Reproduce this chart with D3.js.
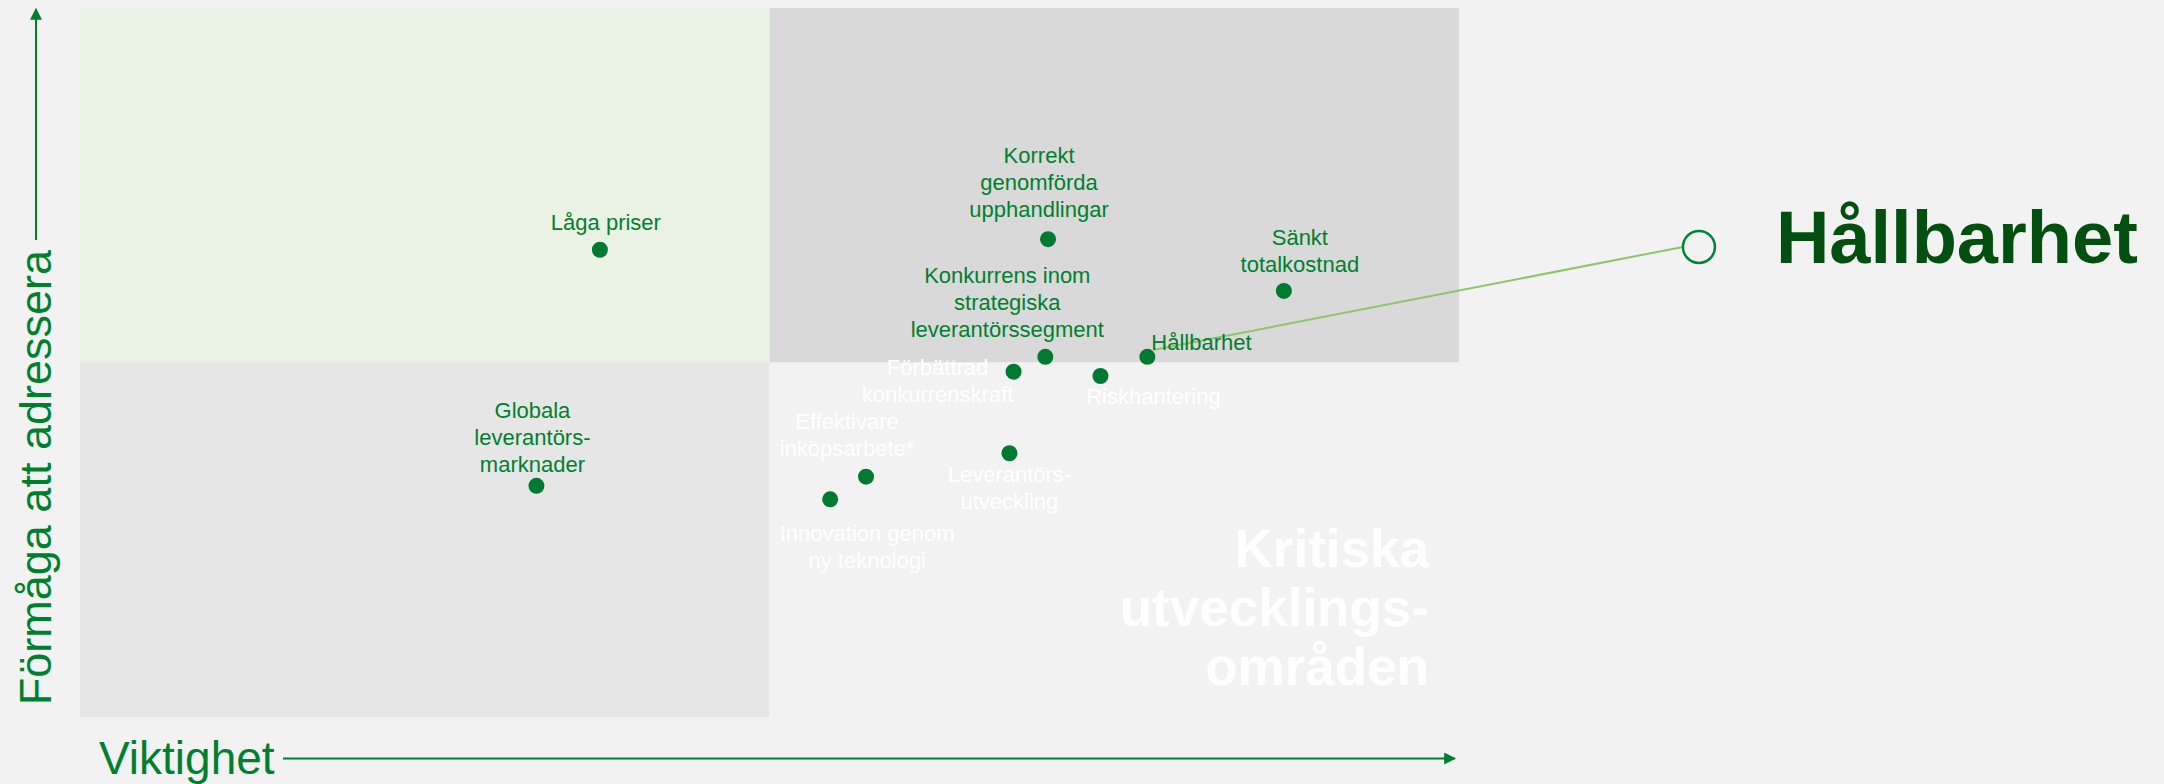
<!DOCTYPE html>
<html>
<head>
<meta charset="utf-8">
<script src="https://cdn.jsdelivr.net/npm/d3@7"></script>
<style>
  html, body { margin: 0; padding: 0; background: #f2f2f2; }
  svg { display: block; font-family: "Liberation Sans", Arial, sans-serif; }
</style>
</head>
<body>
<svg id="chart"></svg>
<script>
// --- data (0-10 scale on both axes) ---
const names = [
  "Låga priser",
  "Globala leverantörs-marknader",
  "Korrekt genomförda upphandlingar",
  "Sänkt totalkostnad",
  "Konkurrens inom strategiska leverantörssegment",
  "Hållbarhet",
  "Förbättrad konkurrenskraft",
  "Riskhantering",
  "Effektivare inköpsarbete*",
  "Leverantörs-utveckling",
  "Innovation genom ny teknologi"
];
const importance = [3.77, 3.31, 7.02, 8.73, 7.00, 7.74, 6.77, 7.40, 5.70, 6.74, 5.44];
const ability    = [6.59, 3.26, 6.74, 6.01, 5.08, 5.08, 4.87, 4.81, 3.39, 3.72, 3.07];
const labelLines = [
  ["Låga priser"],
  ["Globala", "leverantörs-", "marknader"],
  ["Korrekt", "genomförda", "upphandlingar"],
  ["Sänkt", "totalkostnad"],
  ["Konkurrens inom", "strategiska", "leverantörssegment"],
  ["Hållbarhet"],
  ["Förbättrad", "konkurrenskraft"],
  ["Riskhantering"],
  ["Effektivare", "inköpsarbete*"],
  ["Leverantörs-", "utveckling"],
  ["Innovation genom", "ny teknologi"]
];
const quadrantSplit = 5;
const highlightName = "Hållbarhet";
const highlightPos = [11.74, 6.63];
const areaTitle = ["Kritiska", "utvecklings-", "områden"];
const xTitle = "Viktighet";
const yTitle = "Förmåga att adressera";

// --- label layout: [dx, dy of first line, anchor, white?] ---
const labelLayout = [
  [6, -27.5, "middle", false],
  [-4, -76, "middle", false],
  [-9, -84, "middle", false],
  [16, -54, "middle", false],
  [-38, -82, "middle", false],
  [4, -14.5, "start", false],
  [-76, -4.5, "middle", true],
  [53, 20, "middle", true],
  [-19, -56, "middle", true],
  [0, 20.5, "middle", true],
  [37, 34, "middle", true]
];

const width = 2164, height = 784;
const green = "#00802f";
const dotGreen = "#007a30";
const lineH = 27;

const svg = d3.select("#chart").attr("width", width).attr("height", height);
svg.append("rect").attr("width", width).attr("height", height).attr("fill", "#f2f2f2");

const x = d3.scaleLinear().domain([0, 10]).range([80, 1459]);
const y = d3.scaleLinear().domain([0, 10]).range([717, 8]);

// quadrants
const quads = [
  { x0: 0, x1: quadrantSplit, y0: quadrantSplit, y1: 10, fill: "#eaf3e3" },
  { x0: quadrantSplit, x1: 10, y0: quadrantSplit, y1: 10, fill: "#d9d9d9" },
  { x0: 0, x1: quadrantSplit, y0: 0, y1: quadrantSplit, fill: "#e6e6e6" },
  { x0: quadrantSplit, x1: 10, y0: 0, y1: quadrantSplit, fill: "#f2f2f2" }
];
svg.append("g").selectAll("rect")
  .data(quads)
  .join("rect")
  .attr("x", d => x(d.x0))
  .attr("y", d => y(d.y1))
  .attr("width", d => x(d.x1) - x(d.x0))
  .attr("height", d => y(d.y0) - y(d.y1))
  .attr("fill", d => d.fill);

// big area title, bottom right
svg.append("text")
  .attr("text-anchor", "end")
  .attr("font-weight", "bold")
  .attr("font-size", 53)
  .attr("fill", "#ffffff")
  .selectAll("tspan")
  .data(areaTitle)
  .join("tspan")
  .attr("x", 1429)
  .attr("y", (d, i) => 567 + i * 59)
  .text(d => d);

// axes with arrows
const defs = svg.append("defs");
defs.append("marker")
  .attr("id", "arrow")
  .attr("viewBox", "0 0 10 10")
  .attr("refX", 9).attr("refY", 5)
  .attr("markerWidth", 6).attr("markerHeight", 6)
  .attr("markerUnits", "strokeWidth")
  .attr("orient", "auto")
  .append("path")
  .attr("d", "M0,0 L10,5 L0,10 z")
  .attr("fill", green);

svg.append("line")
  .attr("x1", 283).attr("y1", 758.5)
  .attr("x2", 1455).attr("y2", 758.5)
  .attr("stroke", green).attr("stroke-width", 2)
  .attr("marker-end", "url(#arrow)");

svg.append("text")
  .attr("x", 99).attr("y", 774)
  .attr("font-size", 46)
  .attr("fill", green)
  .text(xTitle);

svg.append("line")
  .attr("x1", 36).attr("y1", 240)
  .attr("x2", 36).attr("y2", 9)
  .attr("stroke", green).attr("stroke-width", 2)
  .attr("marker-end", "url(#arrow)");

svg.append("text")
  .attr("transform", "translate(51,250) rotate(-90)")
  .attr("text-anchor", "end")
  .attr("font-size", 45)
  .attr("fill", green)
  .text(yTitle);

// points
const points = names.map((n, i) => ({
  name: n, vx: importance[i], vy: ability[i], lines: labelLines[i], layout: labelLayout[i]
}));

// leader line to highlight
const hl = points.find(p => p.name === highlightName);
const hcx = x(highlightPos[0]), hcy = y(highlightPos[1]), hr = 16;
svg.append("line")
  .attr("x1", x(hl.vx) + 7).attr("y1", y(hl.vy) - 7)
  .attr("x2", hcx - hr).attr("y2", hcy)
  .attr("stroke", "#8dc46c").attr("stroke-width", 2);

svg.append("circle")
  .attr("cx", hcx).attr("cy", hcy).attr("r", hr)
  .attr("fill", "#f2f2f2")
  .attr("stroke", "#00843a").attr("stroke-width", 2.5);

svg.append("text")
  .attr("x", hcx + 77).attr("y", hcy + 16)
  .attr("font-size", 74)
  .attr("font-weight", "bold")
  .attr("fill", "#034f10")
  .text(highlightName);

const labels = svg.append("g").selectAll("text")
  .data(points)
  .join("text")
  .attr("font-size", 22)
  .attr("dominant-baseline", "central")
  .attr("text-anchor", d => d.layout[2])
  .attr("fill", d => d.layout[3] ? "#ffffff" : green);

labels.selectAll("tspan")
  .data(d => d.lines.map((l, i) => ({ l, i, p: d })))
  .join("tspan")
  .attr("x", d => x(d.p.vx) + d.p.layout[0])
  .attr("y", d => y(d.p.vy) + d.p.layout[1] + d.i * lineH)
  .text(d => d.l);

svg.append("g").selectAll("circle")
  .data(points)
  .join("circle")
  .attr("cx", d => x(d.vx))
  .attr("cy", d => y(d.vy))
  .attr("r", 8)
  .attr("fill", dotGreen);
</script>
</body>
</html>
